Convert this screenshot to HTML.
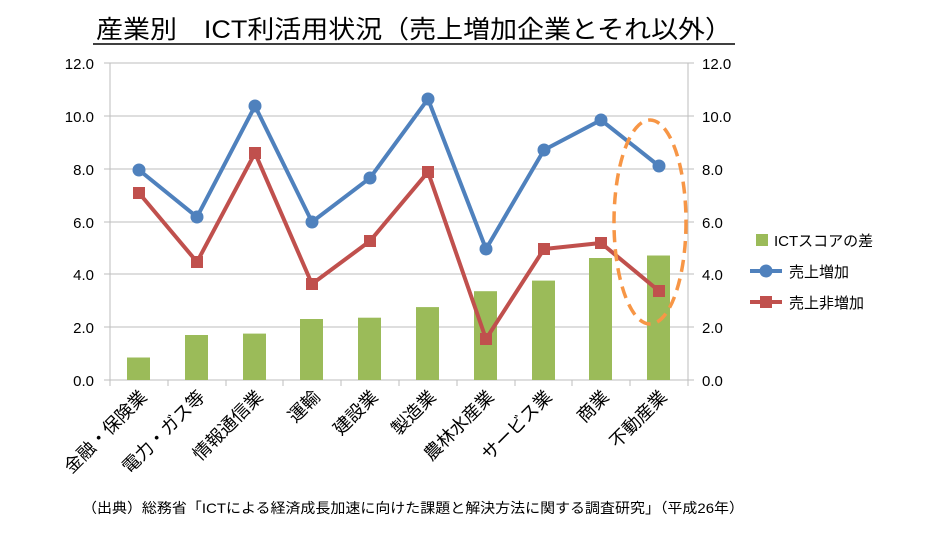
<!DOCTYPE html>
<html><head><meta charset="utf-8"><style>
body{margin:0;background:#fff;}
svg text{font-family:"Liberation Sans","Noto Sans CJK JP",sans-serif;}
</style></head><body>
<svg width="940" height="532" viewBox="0 0 940 532" xmlns="http://www.w3.org/2000/svg">
<text x="96" y="38" font-size="25" textLength="636" lengthAdjust="spacingAndGlyphs" fill="#000">産業別　ICT利活用状況（売上増加企業とそれ以外）</text>
<line x1="93" y1="44" x2="735" y2="44" stroke="#000" stroke-width="1.5"/>
<g stroke="#bdbdbd" stroke-width="1">
<line x1="110" y1="63" x2="688" y2="63"/>
<line x1="110" y1="116" x2="688" y2="116"/>
<line x1="110" y1="169" x2="688" y2="169"/>
<line x1="110" y1="222" x2="688" y2="222"/>
<line x1="110" y1="274" x2="688" y2="274"/>
<line x1="110" y1="327" x2="688" y2="327"/>
<line x1="110" y1="63" x2="110" y2="380"/>
<line x1="688" y1="63" x2="688" y2="380"/>
<line x1="104" y1="380" x2="694" y2="380"/>
</g>
<g stroke="#bdbdbd"><line x1="104" y1="63" x2="110" y2="63"/><line x1="104" y1="116" x2="110" y2="116"/><line x1="104" y1="169" x2="110" y2="169"/><line x1="104" y1="222" x2="110" y2="222"/><line x1="104" y1="274" x2="110" y2="274"/><line x1="104" y1="327" x2="110" y2="327"/>
<line x1="688" y1="63" x2="694" y2="63"/><line x1="688" y1="116" x2="694" y2="116"/><line x1="688" y1="169" x2="694" y2="169"/><line x1="688" y1="222" x2="694" y2="222"/><line x1="688" y1="274" x2="694" y2="274"/><line x1="688" y1="327" x2="694" y2="327"/>
<line x1="110" y1="380" x2="110" y2="386"/><line x1="168" y1="380" x2="168" y2="386"/><line x1="226" y1="380" x2="226" y2="386"/><line x1="283" y1="380" x2="283" y2="386"/><line x1="341" y1="380" x2="341" y2="386"/><line x1="399" y1="380" x2="399" y2="386"/><line x1="457" y1="380" x2="457" y2="386"/><line x1="515" y1="380" x2="515" y2="386"/><line x1="572" y1="380" x2="572" y2="386"/><line x1="630" y1="380" x2="630" y2="386"/><line x1="688" y1="380" x2="688" y2="386"/></g>
<g font-size="15" fill="#000" text-anchor="end">
<text x="94" y="69">12.0</text><text x="94" y="122">10.0</text><text x="94" y="175">8.0</text><text x="94" y="228">6.0</text><text x="94" y="280">4.0</text><text x="94" y="333">2.0</text><text x="94" y="386">0.0</text>
</g>
<g font-size="15" fill="#000">
<text x="702" y="69">12.0</text><text x="702" y="122">10.0</text><text x="702" y="175">8.0</text><text x="702" y="228">6.0</text><text x="702" y="280">4.0</text><text x="702" y="333">2.0</text><text x="702" y="386">0.0</text>
</g>
<g fill="#9bbb59">
<rect x="127" y="357.5" width="23" height="22.5"/>
<rect x="185" y="335" width="23" height="45"/>
<rect x="243" y="333.6" width="23" height="46.4"/>
<rect x="300" y="319" width="23" height="61"/>
<rect x="358" y="317.7" width="23" height="62.3"/>
<rect x="416" y="307.1" width="23" height="72.9"/>
<rect x="474" y="291.2" width="23" height="88.8"/>
<rect x="532" y="280.6" width="23" height="99.4"/>
<rect x="589" y="258" width="23" height="122"/>
<rect x="647" y="255.5" width="23" height="124.5"/>
</g>
<polyline fill="none" stroke="#c0504d" stroke-width="4" points="139,193 197,262 255,153 312,284 370,241 428,172 486,339 544,249 601,243 659,291"/>
<g fill="#c0504d">
<rect x="133" y="187" width="12" height="12"/><rect x="191" y="256" width="12" height="12"/><rect x="249" y="147" width="12" height="12"/><rect x="306" y="278" width="12" height="12"/><rect x="364" y="235" width="12" height="12"/><rect x="422" y="166" width="12" height="12"/><rect x="480" y="333" width="12" height="12"/><rect x="538" y="243" width="12" height="12"/><rect x="595" y="237" width="12" height="12"/><rect x="653" y="285" width="12" height="12"/>
</g>
<polyline fill="none" stroke="#4f81bd" stroke-width="4" points="139,170 197,217 255,106 312,222 370,178 428,99 486,249 544,150 601,120 659,166"/>
<g fill="#4f81bd">
<circle cx="139" cy="170" r="6.5"/><circle cx="197" cy="217" r="6.5"/><circle cx="255" cy="106" r="6.5"/><circle cx="312" cy="222" r="6.5"/><circle cx="370" cy="178" r="6.5"/><circle cx="428" cy="99" r="6.5"/><circle cx="486" cy="249" r="6.5"/><circle cx="544" cy="150" r="6.5"/><circle cx="601" cy="120" r="6.5"/><circle cx="659" cy="166" r="6.5"/>
</g>
<ellipse cx="650" cy="222" rx="36" ry="102" fill="none" stroke="#f79646" stroke-width="3.5" stroke-dasharray="12,7"/>
<rect x="756" y="234" width="12" height="12" fill="#9bbb59"/>
<text x="774" y="246" font-size="15">ICTスコアの差</text>
<line x1="750" y1="271" x2="782" y2="271" stroke="#4f81bd" stroke-width="4"/><circle cx="766" cy="271" r="6.5" fill="#4f81bd"/>
<text x="789" y="277" font-size="15">売上増加</text>
<line x1="750" y1="302" x2="782" y2="302" stroke="#c0504d" stroke-width="4"/><rect x="760" y="296" width="12" height="12" fill="#c0504d"/>
<text x="789" y="308" font-size="15">売上非増加</text>
<g font-size="18" fill="#000" text-anchor="end">
<text transform="translate(148,398) rotate(-45)">金融・保険業</text>
<text transform="translate(206,398) rotate(-45)">電力・ガス等</text>
<text transform="translate(264,398) rotate(-45)">情報通信業</text>
<text transform="translate(321,398) rotate(-45)">運輸</text>
<text transform="translate(379,398) rotate(-45)">建設業</text>
<text transform="translate(437,398) rotate(-45)">製造業</text>
<text transform="translate(495,398) rotate(-45)">農林水産業</text>
<text transform="translate(553,398) rotate(-45)">サービス業</text>
<text transform="translate(610,398) rotate(-45)">商業</text>
<text transform="translate(668,398) rotate(-45)">不動産業</text>
</g>
<text x="82" y="513" font-size="14" textLength="662" lengthAdjust="spacingAndGlyphs" fill="#000">（出典）総務省「ICTによる経済成長加速に向けた課題と解決方法に関する調査研究」（平成26年）</text>
</svg>
</body></html>
